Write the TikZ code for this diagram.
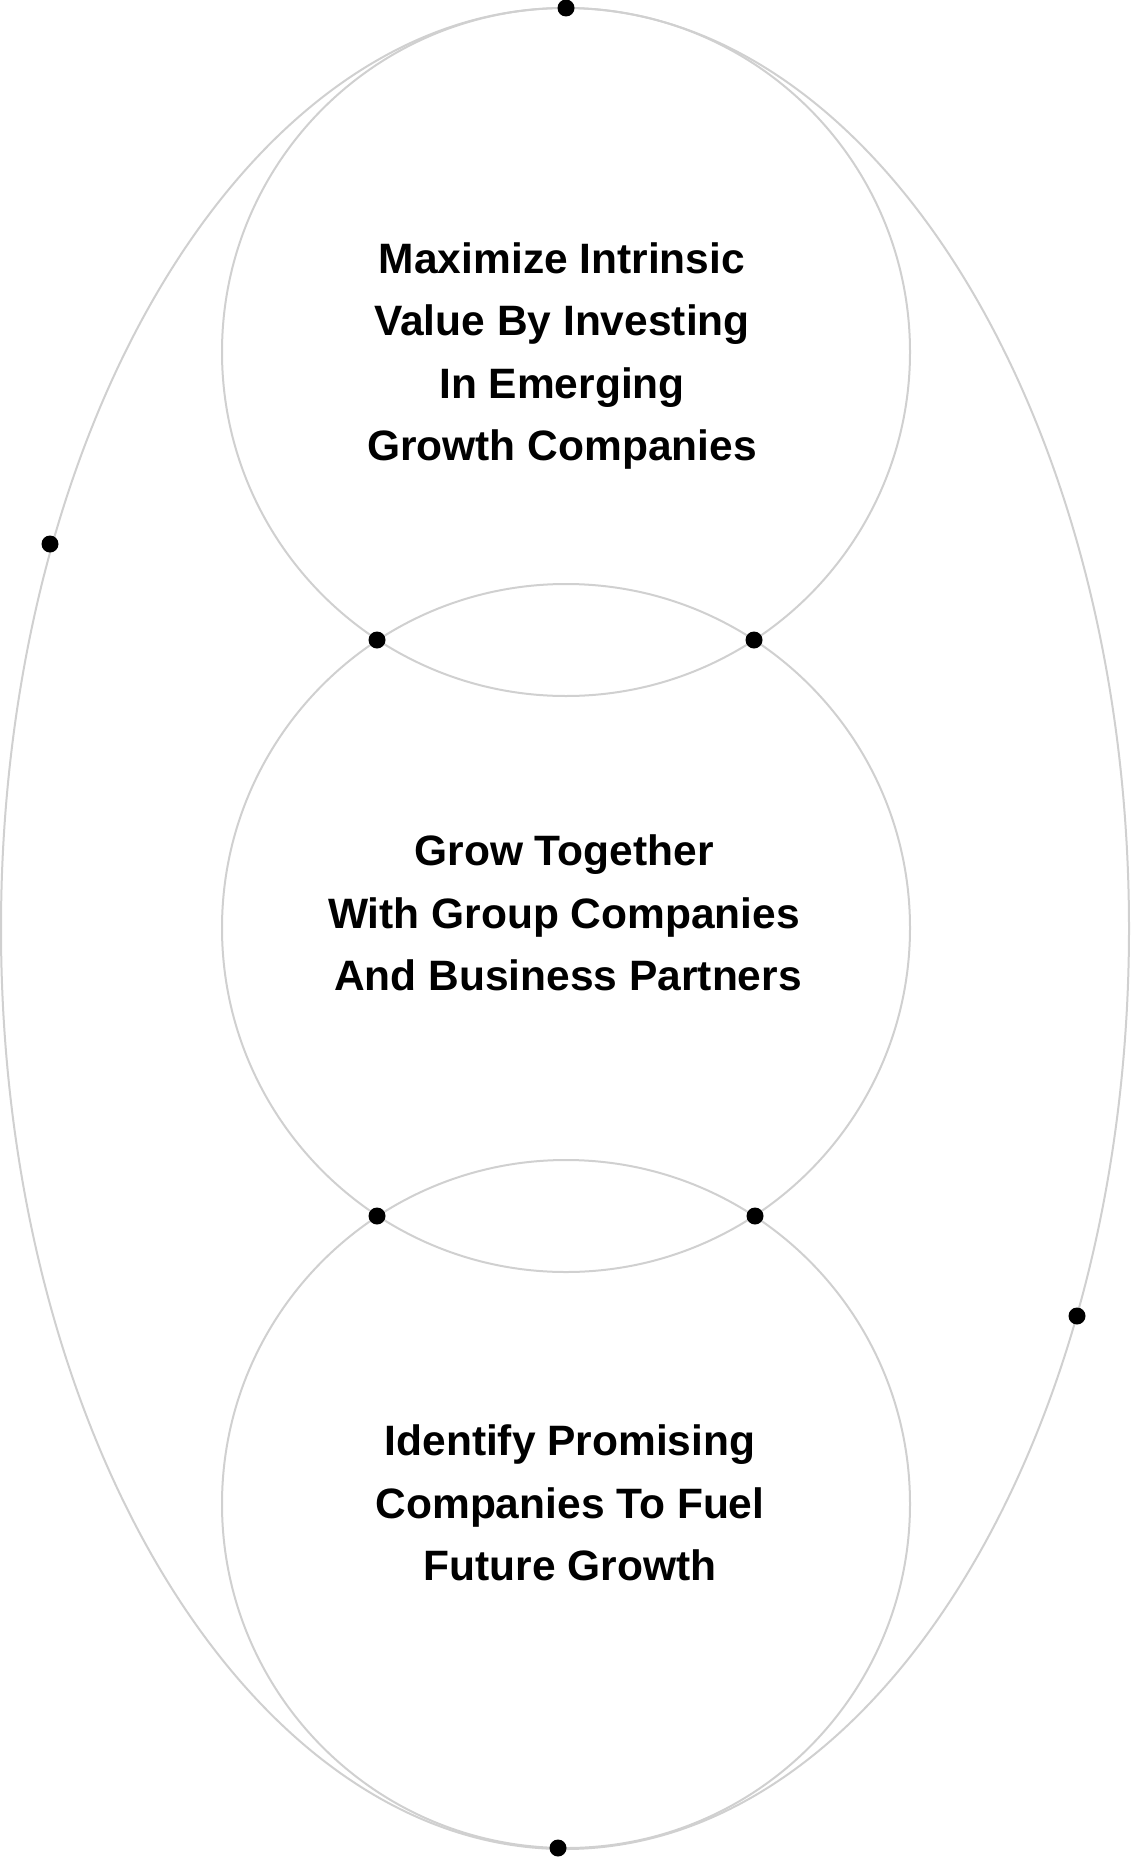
\documentclass[tikz,border=0pt]{standalone}
\usepackage{fontspec}
\setmainfont{Liberation Sans}
\usetikzlibrary{shapes.geometric}
\definecolor{ringgray}{HTML}{D0D0D0}
\tikzset{
  ring/.style={draw=ringgray, line width=2pt, circle, minimum size=688pt, inner sep=0pt},
  outerring/.style={draw=ringgray, line width=2pt, ellipse, minimum width=1128pt, minimum height=1841pt, inner sep=0pt},
  dotmark/.style={circle, fill=black, minimum size=17pt, inner sep=0pt},
  label/.style={align=center, font=\fontsize{42.5}{62.4}\selectfont\bfseries, text=black, inner sep=0pt}
}
\begin{document}
\begin{tikzpicture}[x=1pt,y=-1pt]
\useasboundingbox (0,0) rectangle (1130,1857);
\node[outerring] (outer) at (565,928.5) {};
\node[ring] (c1) at (566,352) {};
\node[ring] (c2) at (566,928) {};
\node[ring] (c3) at (566,1504) {};
\node[dotmark] (dtop) at (566,8) {};
\node[dotmark] (dleft) at (50,544) {};
\node[dotmark] (dright) at (1077,1316) {};
\node[dotmark] (dbottom) at (558,1848) {};
\node[dotmark] (i1) at (377,640) {};
\node[dotmark] (i2) at (754,640) {};
\node[dotmark] (i3) at (377,1216) {};
\node[dotmark] (i4) at (755,1216) {};
\node[label] (t1) at (562,356) {Maximize Intrinsic\\Value By Investing\\In Emerging\\Growth Companies};
\node[label] (t2) at (564,913) {Grow Together\\With Group Companies\\\hspace*{8pt}And Business Partners};
\node[label] (t3) at (570,1503) {Identify Promising\\Companies To Fuel\\Future Growth};
\end{tikzpicture}
\end{document}
